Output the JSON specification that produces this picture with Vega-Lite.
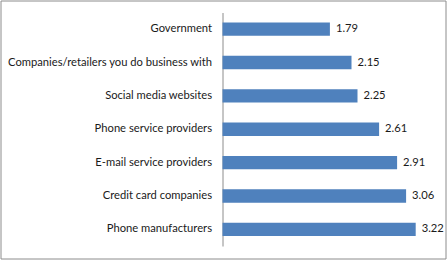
{
  "$schema": "https://vega.github.io/schema/vega-lite/v6.json",
  "width": 445,
  "height": 258,
  "autosize": {"type": "none"},
  "padding": {"left": 0.5, "top": 0.5, "right": 1.5, "bottom": 1.5},
  "background": "white",
  "config": {
    "view": {"stroke": "#8c8c8c", "strokeWidth": 1},
    "font": "Lato"
  },
  "data": {
    "values": [
      {"label": "Government", "value": 1.79},
      {"label": "Companies/retailers you do business with", "value": 2.15},
      {"label": "Social media websites", "value": 2.25},
      {"label": "Phone service providers", "value": 2.61},
      {"label": "E-mail service providers", "value": 2.91},
      {"label": "Credit card companies", "value": 3.06},
      {"label": "Phone manufacturers", "value": 3.22}
    ]
  },
  "encoding": {
    "y": {
      "field": "label",
      "type": "nominal",
      "sort": null,
      "scale": {"range": [12, 245.5], "paddingInner": 0.6, "paddingOuter": 0.3},
      "axis": {
        "title": null,
        "orient": "left",
        "offset": -222,
        "ticks": false,
        "domainColor": "#8c8c8c",
        "domainWidth": 1,
        "labelPadding": 11,
        "labelFont": "Lato",
        "labelFontSize": 11.2,
        "labelColor": "#1a1a1a",
        "labelLimit": 400
      }
    },
    "x": {
      "field": "value",
      "type": "quantitative",
      "scale": {"domain": [0, 3.7], "range": [222, 444], "nice": false, "zero": true},
      "axis": null
    }
  },
  "layer": [
    {"mark": {"type": "bar", "color": "#4F81BD"}},
    {
      "mark": {"type": "text", "align": "left", "baseline": "middle", "dx": 6, "font": "Lato", "fontSize": 11.2, "color": "#1a1a1a"},
      "encoding": {"text": {"field": "value", "type": "quantitative", "format": ".2f"}}
    }
  ]
}
